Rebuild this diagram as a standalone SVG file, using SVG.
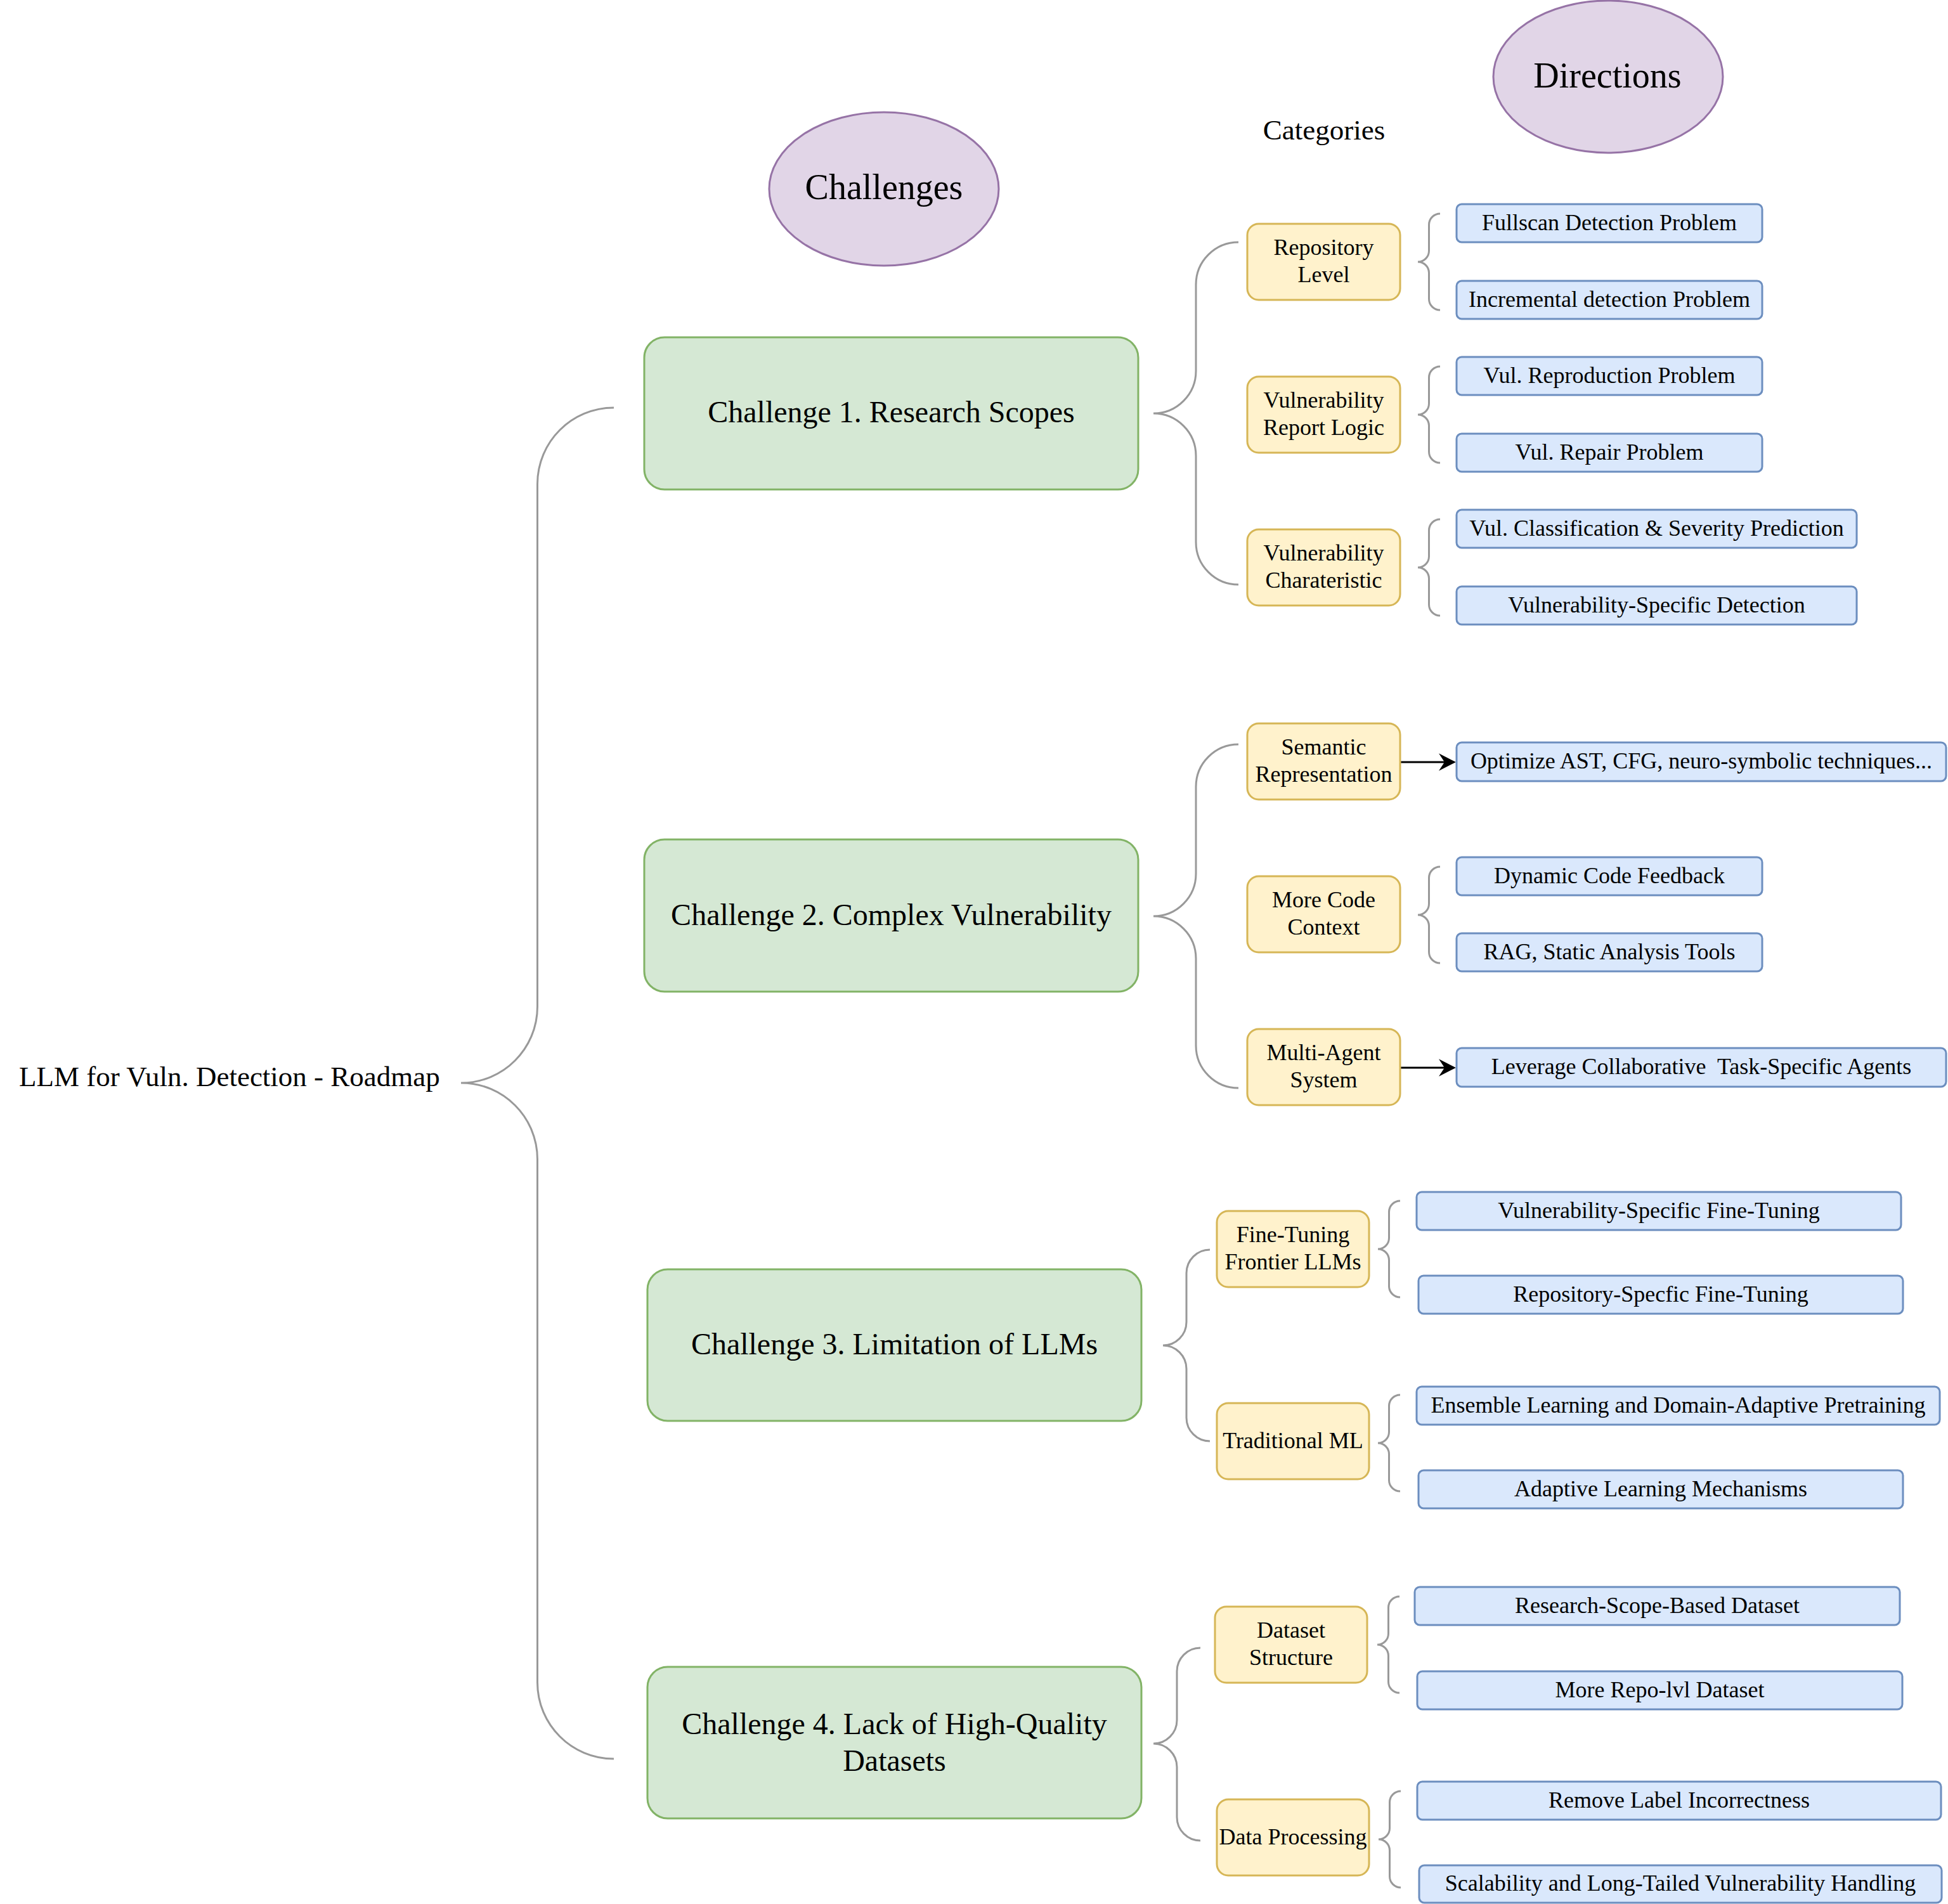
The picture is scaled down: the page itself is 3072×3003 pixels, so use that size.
<svg xmlns="http://www.w3.org/2000/svg" xmlns:xlink="http://www.w3.org/1999/xlink" width="3072" height="3003" viewBox="0 0 3072 3003">
<style>
text{font-family:"Liberation Serif","Times New Roman",serif;fill:#000;text-anchor:middle}
.t56{font-size:56px}.t48{font-size:48px}.t45{font-size:45px}.t36{font-size:36px}
.ell{fill:#e1d5e7;stroke:#9673a6;stroke-width:3}
.ch{fill:#d5e8d4;stroke:#82b366;stroke-width:3}
.cat{fill:#fff2cc;stroke:#d6b656;stroke-width:3}
.dir{fill:#dae8fc;stroke:#6c8ebf;stroke-width:3}
.br{fill:none;stroke:#999;stroke-width:3}
.ar{fill:none;stroke:#000;stroke-width:3}
</style>
<defs>
<path id="sb" d="M 35 -76 C 25.3 -76 17.5 -68.2 17.5 -58.5 L 17.5 -17.5 C 17.5 -7.8 9.7 0 0 0 C 9.7 0 17.5 7.8 17.5 17.5 L 17.5 58.5 C 17.5 68.2 25.3 76 35 76"/>
<marker id="arr" markerUnits="userSpaceOnUse" viewBox="-12 -15 30 30" markerWidth="30" markerHeight="30" refX="0" refY="0" orient="auto">
<path d="M 17 0 L -10 -13.7 L -1 0 L -10 13.7 Z" fill="#000"/>
</marker>
</defs>
<rect width="3072" height="3003" fill="#fff"/>

<g id="connectors">
<path class="br" d="M 968 643 C 901.45 643 847.5 696.95 847.5 763.5 L 847.5 1587.5 C 847.5 1654.05 793.55 1708 727 1708 C 793.55 1708 847.5 1761.95 847.5 1828.5 L 847.5 2653.5 C 847.5 2720.05 901.45 2774 968 2774"/>
<path class="br" d="M 1953 382 C 1916 382 1886 412 1886 449 L 1886 585 C 1886 622 1856 652 1819 652 C 1856 652 1886 682 1886 719 L 1886 855 C 1886 892 1916 922 1953 922"/>
<path class="br" d="M 1953 1174 C 1916 1174 1886 1204 1886 1241 L 1886 1378 C 1886 1415 1856 1445 1819 1445 C 1856 1445 1886 1475 1886 1512 L 1886 1649 C 1886 1686 1916 1716 1953 1716"/>
<path class="br" d="M 1908 1971 C 1887.6 1971 1871 1987.6 1871 2008 L 1871 2085 C 1871 2105.4 1854.4 2122 1834 2122 C 1854.4 2122 1871 2138.6 1871 2159 L 1871 2236 C 1871 2256.4 1887.6 2273 1908 2273"/>
<path class="br" d="M 1893 2599 C 1872.6 2599 1856 2615.6 1856 2636 L 1856 2713 C 1856 2733.4 1839.4 2750 1819 2750 C 1839.4 2750 1856 2766.6 1856 2787 L 1856 2866 C 1856 2886.4 1872.6 2903 1893 2903"/>
<use class="br" xlink:href="#sb" href="#sb" x="2236" y="413"/>
<use class="br" xlink:href="#sb" href="#sb" x="2236" y="654"/>
<use class="br" xlink:href="#sb" href="#sb" x="2236" y="895"/>
<use class="br" xlink:href="#sb" href="#sb" x="2236" y="1443"/>
<use class="br" xlink:href="#sb" href="#sb" x="2173" y="1970"/>
<use class="br" xlink:href="#sb" href="#sb" x="2173" y="2276"/>
<use class="br" xlink:href="#sb" href="#sb" x="2172" y="2594"/>
<use class="br" xlink:href="#sb" href="#sb" x="2174" y="2901"/>
<path class="ar" d="M 2208 1202 L 2279 1202" marker-end="url(#arr)"/>
<path class="ar" d="M 2208 1684 L 2279 1684" marker-end="url(#arr)"/>
</g>

<g id="root"><text class="t45" x="30" y="1713" style="text-anchor:start">LLM for Vuln. Detection - Roadmap</text></g>
<g id="challenges-label"><ellipse class="ell" cx="1394" cy="298" rx="181" ry="121"/><text class="t56" x="1394" y="314">Challenges</text></g>
<g id="directions-label"><ellipse class="ell" cx="2536" cy="121" rx="181" ry="120"/><text class="t56" x="2535" y="138">Directions</text></g>
<g id="categories-label"><text class="t45" x="2088" y="220">Categories</text></g>

<g id="ch1"><rect class="ch" x="1016" y="532" width="779" height="240" rx="32"/><text class="t48" x="1405.5" y="666">Challenge 1. Research Scopes</text></g>
<g id="ch2"><rect class="ch" x="1016" y="1324" width="779" height="240" rx="32"/><text class="t48" x="1405.5" y="1459">Challenge 2. Complex Vulnerability</text></g>
<g id="ch3"><rect class="ch" x="1021" y="2002" width="779" height="239" rx="32"/><text class="t48" x="1410.5" y="2136">Challenge 3. Limitation of LLMs</text></g>
<g id="ch4"><rect class="ch" x="1021" y="2629" width="779" height="239" rx="32"/><text class="t48" x="1410.5" y="2735">Challenge 4. Lack of High-Quality</text><text class="t48" x="1410.5" y="2793">Datasets</text></g>

<g id="cat-repo"><rect class="cat" x="1967" y="353" width="241" height="120" rx="18"/><text class="t36" x="2087.5" y="402">Repository</text><text class="t36" x="2087.5" y="445">Level</text></g>
<g id="cat-report"><rect class="cat" x="1967" y="594" width="241" height="120" rx="18"/><text class="t36" x="2087.5" y="643">Vulnerability</text><text class="t36" x="2087.5" y="686">Report Logic</text></g>
<g id="cat-char"><rect class="cat" x="1967" y="835" width="241" height="120" rx="18"/><text class="t36" x="2087.5" y="884">Vulnerability</text><text class="t36" x="2087.5" y="927">Charateristic</text></g>
<g id="cat-sem"><rect class="cat" x="1967" y="1141" width="241" height="120" rx="18"/><text class="t36" x="2087.5" y="1190">Semantic</text><text class="t36" x="2087.5" y="1233">Representation</text></g>
<g id="cat-ctx"><rect class="cat" x="1967" y="1382" width="241" height="120" rx="18"/><text class="t36" x="2087.5" y="1431">More Code</text><text class="t36" x="2087.5" y="1474">Context</text></g>
<g id="cat-agent"><rect class="cat" x="1967" y="1623" width="241" height="120" rx="18"/><text class="t36" x="2087.5" y="1672">Multi-Agent</text><text class="t36" x="2087.5" y="1715">System</text></g>
<g id="cat-ft"><rect class="cat" x="1919" y="1910" width="240" height="120" rx="18"/><text class="t36" x="2039" y="1959">Fine-Tuning</text><text class="t36" x="2039" y="2002">Frontier LLMs</text></g>
<g id="cat-ml"><rect class="cat" x="1919" y="2213" width="240" height="120" rx="18"/><text class="t36" x="2039" y="2283.5">Traditional ML</text></g>
<g id="cat-ds"><rect class="cat" x="1916" y="2534" width="240" height="120" rx="18"/><text class="t36" x="2036" y="2583">Dataset</text><text class="t36" x="2036" y="2626">Structure</text></g>
<g id="cat-dp"><rect class="cat" x="1919" y="2838" width="240" height="120" rx="18"/><text class="t36" x="2039" y="2908.5">Data Processing</text></g>

<g id="d-fullscan"><rect class="dir" x="2297" y="322" width="482" height="60" rx="8"/><text class="t36" x="2538" y="362.5">Fullscan Detection Problem</text></g>
<g id="d-incr"><rect class="dir" x="2297" y="443" width="482" height="60" rx="8"/><text class="t36" x="2538" y="483.5">Incremental detection Problem</text></g>
<g id="d-repro"><rect class="dir" x="2297" y="563" width="482" height="60" rx="8"/><text class="t36" x="2538" y="603.5">Vul. Reproduction Problem</text></g>
<g id="d-repair"><rect class="dir" x="2297" y="684" width="482" height="60" rx="8"/><text class="t36" x="2538" y="724.5">Vul. Repair Problem</text></g>
<g id="d-class"><rect class="dir" x="2297" y="804" width="631" height="60" rx="8"/><text class="t36" x="2612.5" y="844.5">Vul. Classification &amp; Severity Prediction</text></g>
<g id="d-vsd"><rect class="dir" x="2297" y="925" width="631" height="60" rx="8"/><text class="t36" x="2612.5" y="965.5">Vulnerability-Specific Detection</text></g>
<g id="d-opt"><rect class="dir" x="2297" y="1171" width="772" height="61" rx="8"/><text class="t36" x="2683" y="1212">Optimize AST, CFG, neuro-symbolic techniques...</text></g>
<g id="d-dyn"><rect class="dir" x="2297" y="1352" width="482" height="60" rx="8"/><text class="t36" x="2538" y="1392.5">Dynamic Code Feedback</text></g>
<g id="d-rag"><rect class="dir" x="2297" y="1472" width="482" height="60" rx="8"/><text class="t36" x="2538" y="1512.5">RAG, Static Analysis Tools</text></g>
<g id="d-lev"><rect class="dir" x="2297" y="1653" width="772" height="61" rx="8"/><text class="t36" x="2683" y="1694" style="white-space:pre" xml:space="preserve">Leverage Collaborative  Task-Specific Agents</text></g>
<g id="d-vsft"><rect class="dir" x="2234" y="1880" width="764" height="60" rx="8"/><text class="t36" x="2616" y="1920.5">Vulnerability-Specific Fine-Tuning</text></g>
<g id="d-rsft"><rect class="dir" x="2237" y="2012" width="764" height="60" rx="8"/><text class="t36" x="2619" y="2052.5">Repository-Specfic Fine-Tuning</text></g>
<g id="d-ens"><rect class="dir" x="2234" y="2187" width="825" height="60" rx="8"/><text class="t36" x="2646.5" y="2227.5">Ensemble Learning and Domain-Adaptive Pretraining</text></g>
<g id="d-adapt"><rect class="dir" x="2237" y="2319" width="764" height="60" rx="8"/><text class="t36" x="2619" y="2359.5">Adaptive Learning Mechanisms</text></g>
<g id="d-rsbd"><rect class="dir" x="2231" y="2503" width="765" height="60" rx="8"/><text class="t36" x="2613.5" y="2543.5">Research-Scope-Based Dataset</text></g>
<g id="d-repo"><rect class="dir" x="2235" y="2636" width="765" height="60" rx="8"/><text class="t36" x="2617.5" y="2676.5">More Repo-lvl Dataset</text></g>
<g id="d-label"><rect class="dir" x="2235" y="2810" width="826" height="60" rx="8"/><text class="t36" x="2648" y="2850.5">Remove Label Incorrectness</text></g>
<g id="d-scal"><rect class="dir" x="2238" y="2942" width="824" height="59" rx="8"/><text class="t36" x="2650" y="2982">Scalability and Long-Tailed Vulnerability Handling</text></g>
</svg>
